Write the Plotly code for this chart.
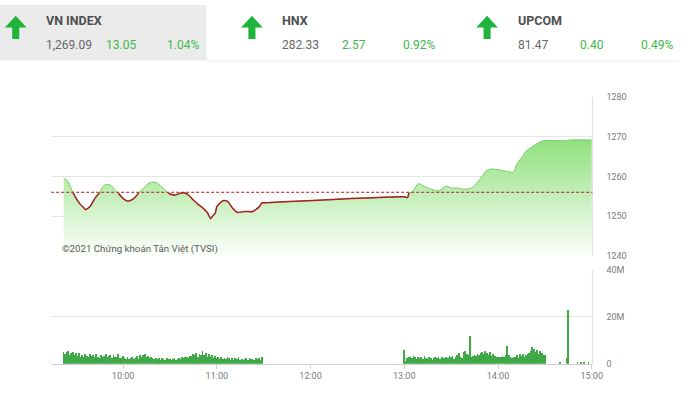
import plotly.graph_objects as go
import pandas as pd

DAY = "2021-06-01"
REF = 1256.04  # reference (previous close)

# ---------------- data ----------------
price_times = ["09:22", "09:23", "09:25", "09:28", "09:32", "09:35", "09:36", "09:39", "09:42", "09:45",
               "09:47", "09:49", "09:52", "09:55", "09:57", "10:00", "10:03", "10:07", "10:10", "10:14",
               "10:16", "10:19", "10:22", "10:26", "10:29", "10:33", "10:36", "10:38", "10:40", "10:42",
               "10:45", "10:48", "10:51", "10:54", "10:56", "10:57", "10:59", "11:00", "11:02", "11:04",
               "11:07", "11:10", "11:13", "11:18", "11:23", "11:25", "11:27", "11:29", "11:30",
               "13:00", "13:02", "13:03", "13:05", "13:09", "13:13", "13:19", "13:22", "13:27", "13:30",
               "13:34", "13:38", "13:43", "13:47", "13:50", "13:53", "13:56", "14:02", "14:07", "14:10",
               "14:12", "14:15", "14:18", "14:23", "14:29", "14:44", "14:46", "15:00"]
price_values = [1259.1, 1259.4, 1258.6, 1255.9, 1253.3, 1252.1, 1251.7, 1252.5, 1254.5, 1255.9,
                1257.5, 1258.0, 1257.8, 1256.6, 1255.8, 1254.5, 1253.8, 1254.5, 1255.9, 1257.4,
                1258.2, 1258.6, 1258.3, 1257.0, 1255.8, 1255.3, 1255.7, 1255.9, 1255.8, 1255.3,
                1254.1, 1253.0, 1252.1, 1250.9, 1249.4, 1249.9, 1250.8, 1252.4, 1253.3, 1253.9,
                1253.7, 1252.1, 1251.0, 1251.2, 1251.2, 1251.7, 1252.3, 1253.4, 1253.4,
                1254.9, 1254.7, 1255.9, 1256.1, 1258.2, 1257.5, 1256.6, 1256.4, 1257.6, 1257.1,
                1257.1, 1256.8, 1257.1, 1258.6, 1260.2, 1261.6, 1261.9, 1261.6, 1261.2, 1261.1,
                1263.1, 1264.7, 1266.4, 1267.8, 1269.0, 1269.0, 1269.2, 1269.2]

# volume per minute, millions
vol_am_start = "09:22"
vol_am = [5.0, 4.2, 4.8, 5.2, 3.8, 4.6, 5.0, 3.5, 4.4, 3.2,
          4.5, 3.0, 3.8, 2.8, 4.2, 3.4, 2.6, 4.0, 3.1, 3.6,
          2.7, 3.9, 3.0, 2.5, 3.7, 2.9, 3.3, 4.1, 2.6, 3.2,
          3.5, 2.4, 3.8, 2.8, 3.0, 3.9, 2.5, 2.2, 3.1, 2.4,
          2.0, 2.6, 1.8, 2.3, 2.9, 1.9, 2.4, 3.2, 2.1, 3.5,
          2.8, 3.6, 4.0, 2.6, 3.3, 2.4, 3.0, 2.2, 2.0, 2.5,
          1.9, 2.4, 1.7, 2.2, 2.0, 1.6, 2.3, 1.8, 2.1, 1.5,
          1.8, 2.2, 1.6, 2.0, 2.4, 1.9, 2.6, 2.3, 2.8, 3.0,
          2.5, 3.4, 3.1, 4.0, 3.6, 4.4, 2.9, 4.1, 3.8, 5.2,
          3.5, 4.6, 3.0, 4.2, 2.7, 3.6, 2.4, 3.3, 2.2, 2.9,
          2.0, 2.6, 1.8, 2.4, 1.9, 2.8, 2.5, 1.7, 2.2, 1.6,
          2.3, 1.8, 2.6, 1.5, 2.0, 1.4, 1.9, 2.2, 1.6, 2.4,
          1.8, 2.1, 1.5, 2.5, 1.9, 2.3, 1.7, 2.6]
vol_pm_start = "13:00"
vol_pm = [5.6, 1.2, 2.4, 3.0, 2.8, 2.2, 3.2, 2.6, 2.0, 3.0,
          2.5, 2.8, 2.1, 3.1, 2.4, 1.9, 2.6, 2.2, 1.7, 2.4,
          3.0, 2.3, 2.7, 2.0, 2.9, 2.4, 2.2, 2.8, 2.5, 3.3,
          2.6, 3.4, 2.1, 2.9, 3.8, 4.4, 3.0, 2.5, 4.8, 5.2,
          4.0, 3.6, 11.8, 2.6, 3.2, 3.8, 3.4, 4.1, 3.6, 4.6,
          5.0, 4.2, 5.3, 4.5, 3.8, 4.8, 3.2, 4.0, 3.1, 2.9,
          3.0, 2.6, 2.8, 3.4, 2.7, 3.8, 7.7, 3.5, 2.8, 2.4,
          3.0, 2.7, 3.6, 2.5, 3.9, 3.2, 4.2, 2.9, 3.6, 4.0,
          4.4, 5.5, 7.0, 6.2, 4.8, 5.6, 4.2, 5.3, 4.4, 3.8,
          3.5]
vol_extra_times = ["14:40", "14:44", "14:45", "14:51", "14:53", "14:55", "14:58"]
vol_extra = [0.3, 2.5, 23.0, 0.3, 0.3, 0.3, 0.4]

price_ticks = [1240, 1250, 1260, 1270, 1280]
vol_ticks = [0, 20, 40]
vol_tick_text = ["0", "20M", "40M"]
time_ticks = ["10:00", "11:00", "12:00", "13:00", "14:00", "15:00"]

header_names = ["VN INDEX", "HNX", "UPCOM"]
header_values = ["1,269.09", "282.33", "81.47"]
header_changes = ["13.05", "2.57", "0.40"]
header_pcts = ["1.04%", "0.92%", "0.49%"]

copyright_text = "©2021 Chứng khoán Tân Việt (TVSI)"

# ---------------- helpers ----------------
W, H = 689, 395


def px(x):
    return x / W


def py(y):
    return 1 - y / H


def ts(t):
    return pd.Timestamp(f"{DAY} {t}")


p_x = [ts(t) for t in price_times]
red_y = [v if v <= REF + 0.05 else None for v in price_values]

am_x = pd.date_range(ts(vol_am_start), periods=len(vol_am), freq="1min")
pm_x = pd.date_range(ts(vol_pm_start), periods=len(vol_pm), freq="1min")
vx = list(am_x) + list(pm_x) + [ts(t) for t in vol_extra_times]
vy = [v * 1e6 for v in vol_am + vol_pm + vol_extra]

GREEN_TXT = "#3cb94a"
FONT = "Roboto"

fig = go.Figure()

fig.add_trace(go.Scatter(
    x=p_x, y=price_values, mode="lines", fill="tozeroy",
    line=dict(color="rgba(112,206,92,0.95)", width=1, shape="spline", smoothing=0.7),
    fillgradient=dict(type="vertical", start=1240, stop=1271,
                      colorscale=[[0, "rgba(255,255,255,1)"], [1, "rgb(138,223,118)"]]),
    hoverinfo="skip", showlegend=False, xaxis="x", yaxis="y"))

fig.add_trace(go.Scatter(
    x=p_x, y=red_y, mode="lines", connectgaps=False,
    line=dict(color="#a81f1f", width=1.5, shape="spline", smoothing=0.7),
    hoverinfo="skip", showlegend=False, xaxis="x", yaxis="y"))

fig.add_trace(go.Bar(
    x=vx, y=vy, width=32000, marker=dict(color="#3fa847", line=dict(width=0)),
    hoverinfo="skip", showlegend=False, xaxis="x2", yaxis="y2"))

x_range = [ts("09:14"), pd.Timestamp(f"{DAY} 15:00:24")]
x_dom = [px(52), px(602)]
tick_vals = [ts(t) for t in time_ticks]

axis_font = dict(family=FONT, size=9, color="#7a7a7a")

fig.update_layout(
    width=W, height=H, margin=dict(l=0, r=0, t=0, b=0),
    paper_bgcolor="white", plot_bgcolor="white",
    font=dict(family=FONT),
    bargap=0,
    xaxis=dict(domain=x_dom, range=x_range, type="date", showticklabels=False,
               showgrid=False, zeroline=False, anchor="y", tickvals=tick_vals),
    yaxis=dict(domain=[py(257.5), py(94.5)], range=[1240, 1280], side="right",
               tickvals=price_ticks, ticktext=[str(v) for v in price_ticks],
               tickfont=axis_font, showgrid=True, gridcolor="#e6e6e6", gridwidth=1,
               zeroline=False, ticklabelstandoff=13, anchor="x", ticks=""),
    xaxis2=dict(domain=x_dom, range=x_range, type="date", matches="x", anchor="y2",
                tickvals=tick_vals, ticktext=time_ticks, tickfont=axis_font,
                showgrid=False, zeroline=False, showline=True, linecolor="#cfcfcf",
                ticks="outside", ticklen=4, tickcolor="#cfcfcf"),
    yaxis2=dict(domain=[py(368), py(272)], range=[0, 40e6], side="right",
                tickvals=[v * 1e6 for v in vol_ticks], ticktext=vol_tick_text,
                tickfont=axis_font, showgrid=True, gridcolor="#e6e6e6",
                zeroline=False, ticklabelstandoff=13, anchor="x2", ticks=""),
)

shapes = []
# header grey panel and divider
shapes.append(dict(type="rect", xref="paper", yref="paper", x0=0, x1=px(210), y0=py(57), y1=1,
                   fillcolor="#ebebeb", line=dict(width=0), layer="below"))
shapes.append(dict(type="line", xref="paper", yref="paper", x0=px(210), x1=1, y0=py(57.5), y1=py(57.5),
                   line=dict(color="#ececec", width=1)))
# panel right borders
shapes.append(dict(type="line", xref="paper", yref="paper", x0=px(602), x1=px(602), y0=py(257.5), y1=py(94.5),
                   line=dict(color="#dcdcdc", width=1)))
shapes.append(dict(type="line", xref="paper", yref="paper", x0=px(602), x1=px(602), y0=py(368), y1=py(272),
                   line=dict(color="#dcdcdc", width=1)))
# reference line
shapes.append(dict(type="line", xref="paper", yref="y", x0=px(52), x1=px(602), y0=REF, y1=REF,
                   line=dict(color="#a82020", width=1, dash="3px,2px")))


def arrow(cx, top, bottom):
    head_w, head_h, stem_w = 11, 12, 3.6
    pts = [(cx, top), (cx + head_w, top + head_h), (cx + stem_w, top + head_h),
           (cx + stem_w, bottom), (cx - stem_w, bottom), (cx - stem_w, top + head_h),
           (cx - head_w, top + head_h)]
    d = "M " + " L ".join(f"{px(a):.5f},{py(b):.5f}" for a, b in pts) + " Z"
    return dict(type="path", xref="paper", yref="paper", path=d,
                fillcolor="#1fb53c", line=dict(width=0))


arrow_cx = [16, 256, 495]
for cx in arrow_cx:
    shapes.append(arrow(cx, 11, 35))

fig.update_layout(shapes=shapes)

annotations = []
label_x = [45, 285, 524]
chg_x = [106, 346, 587]
pct_x = [168, 407, 649]
for i in range(3):
    annotations.append(dict(xref="paper", yref="paper", x=px(label_x[i]), y=py(16), xanchor="left",
                            yanchor="middle", showarrow=False,
                            text=f"<b>{header_names[i]}</b>",
                            font=dict(family=FONT, size=12.5, color="#4e4e4e")))
    annotations.append(dict(xref="paper", yref="paper", x=px(label_x[i]), y=py(41), xanchor="left",
                            yanchor="middle", showarrow=False, text=header_values[i],
                            font=dict(family=FONT, size=12, color="#666666")))
    annotations.append(dict(xref="paper", yref="paper", x=px(chg_x[i]), y=py(41), xanchor="left",
                            yanchor="middle", showarrow=False, text=header_changes[i],
                            font=dict(family=FONT, size=12, color=GREEN_TXT)))
    annotations.append(dict(xref="paper", yref="paper", x=px(pct_x[i]), y=py(41), xanchor="left",
                            yanchor="middle", showarrow=False, text=header_pcts[i],
                            font=dict(family=FONT, size=12, color=GREEN_TXT)))

annotations.append(dict(xref="paper", yref="paper", x=px(61), y=py(250), xanchor="left", yanchor="middle",
                        showarrow=False, text=copyright_text,
                        font=dict(family=FONT, size=9.7, color="#595959")))

fig.update_layout(annotations=annotations)

fig.write_html("out.html")
